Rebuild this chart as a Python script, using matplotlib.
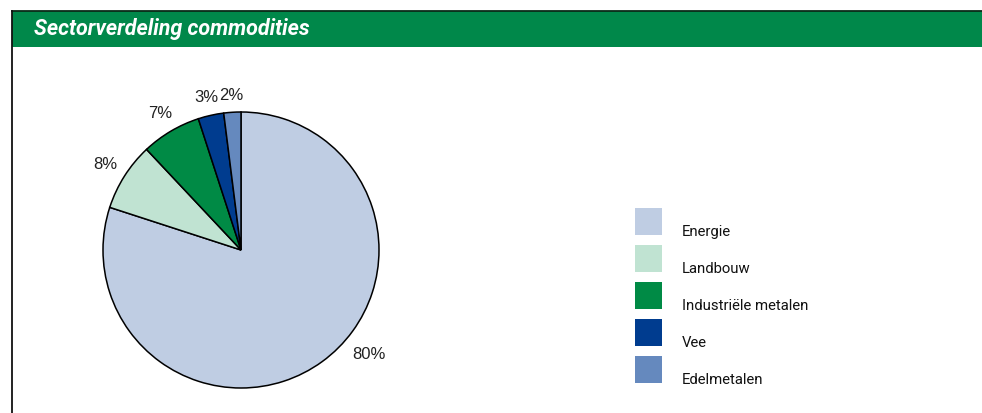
import matplotlib
matplotlib.use('Agg')
import matplotlib.pyplot as plt
from matplotlib.patches import Rectangle
from matplotlib.lines import Line2D
import numpy as np

sectors = ['Energie', 'Landbouw', 'Industriële metalen', 'Vee', 'Edelmetalen']
shares = [80, 8, 7, 3, 2]
colors = ['#bfcde3', '#c0e3d2', '#008a45', '#003c8f', '#6589be']
title = 'Sectorverdeling commodities'

W, H = 982, 414
fig = plt.figure(figsize=(W / 100, H / 100), dpi=100)

def fx(px):
    return px / W

def fy(py):
    return 1 - py / H

# header bar + frame
fig.add_artist(Rectangle((fx(12), fy(48)), 1 - fx(12), fy(12) - fy(48),
                         transform=fig.transFigure, color='#00884a', lw=0))
fig.add_artist(Line2D([fx(11.5), 1], [fy(11.5), fy(11.5)], transform=fig.transFigure,
                      color='#0a2a18', lw=1.3))
fig.add_artist(Line2D([fx(11.5), fx(11.5)], [fy(11.5), 0], transform=fig.transFigure,
                      color='#111111', lw=1.3))
fig.text(fx(34), fy(29), title, color='white', fontsize=15.5, fontweight='bold',
         fontstyle='italic', va='center', ha='left',
         family=['Roboto', 'DejaVu Sans'])

# pie
cx, cy, r = 241, 251, 138
ax = fig.add_axes([fx(cx - r), fy(cy + r), 2 * r / W, 2 * r / H])
wedges, _ = ax.pie(shares, colors=colors, startangle=90, counterclock=False,
                   wedgeprops=dict(edgecolor='black', linewidth=1.1))
ax.set_xlim(-1, 1)
ax.set_ylim(-1, 1)
ax.set_aspect('equal')
ax.axis('off')

# labels sit a fixed gap outside the rim, measured to the edge of the text box
gap = 10 / r
hh = 7 / r
for i, (w, v) in enumerate(zip(wedges, shares)):
    ang = (w.theta1 + w.theta2) / 2
    if i == 0:
        ang += 15  # keep the big label clear of the legend side
    lbl = f'{v}%'
    hw = (5.5 * len(lbl)) / r
    c, s = np.cos(np.radians(ang)), np.sin(np.radians(ang))
    d = 1 + gap + abs(c) * hw + abs(s) * hh
    ax.text(d * c, d * s, lbl, ha='center', va='center', fontsize=12,
            family=['Liberation Sans', 'DejaVu Sans'], color='#222222', clip_on=False)

# legend
for i, (name, c) in enumerate(zip(sectors, colors)):
    top = 209 + i * 37
    fig.add_artist(Rectangle((fx(635), fy(top + 27)), fx(27), 27 / H,
                             transform=fig.transFigure, color=c, lw=0))
    fig.text(fx(682), fy(top + 27), name, fontsize=10.7, va='baseline', ha='left',
             color='#111111', family=['Roboto', 'DejaVu Sans'])

fig.savefig('out.png', dpi=100)
